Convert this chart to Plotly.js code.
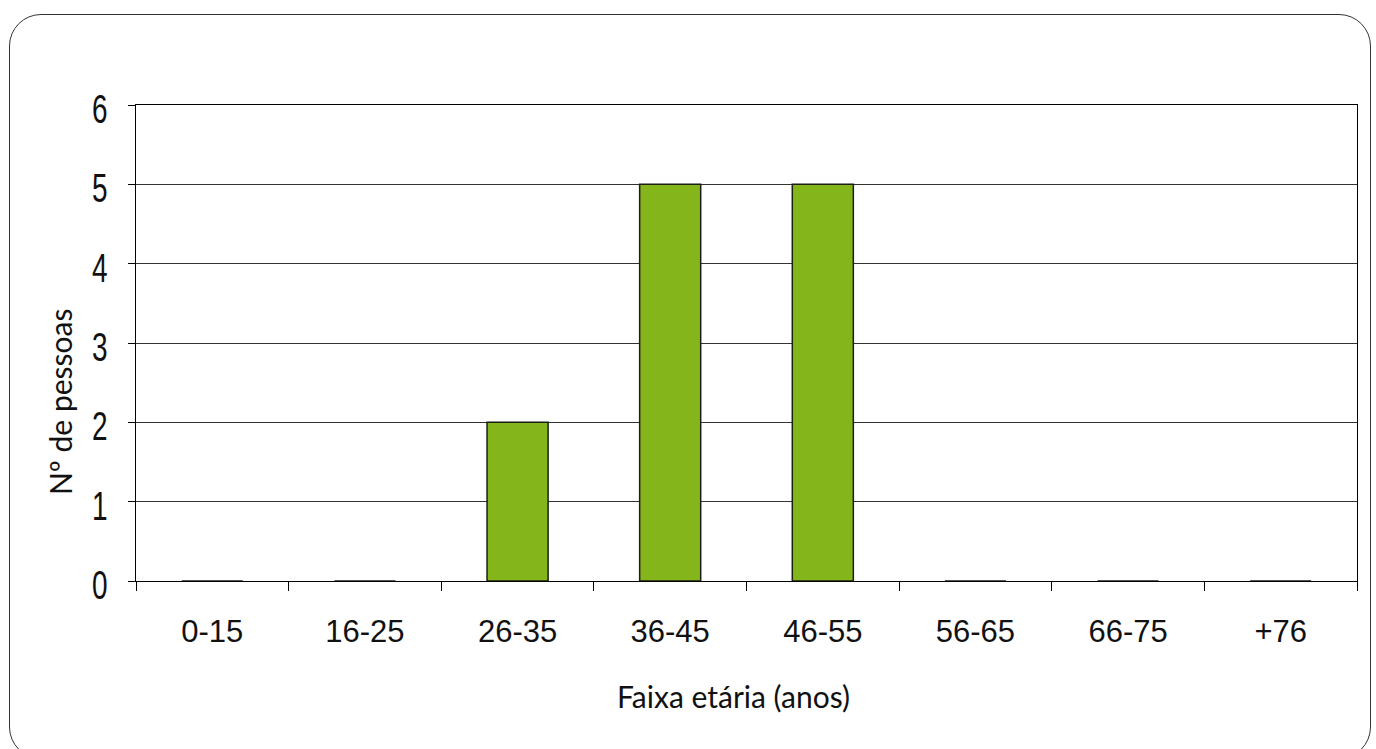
<!DOCTYPE html>
<html><head><meta charset="utf-8">
<script src="https://cdn.plot.ly/plotly-3.0.1.min.js"></script>
<style>
html,body{margin:0;padding:0;background:#fff;}
#wrap{position:relative;width:1376px;height:749px;}
#chart{position:absolute;left:0;top:0;width:1376px;height:749px;}
#frame{position:absolute;left:9px;top:14px;width:1362px;height:745px;border:1.3px solid #333;border-radius:32px;pointer-events:none;box-sizing:border-box;}
</style></head>
<body>
<div id="wrap"><div id="chart"></div><div id="frame"></div></div>
<script>
const categories = ["0-15","16-25","26-35","36-45","46-55","56-65","66-75","+76"];
const pessoas = [0,0,2,5,5,0,0,0];
const yTicks = [0,1,2,3,4,5,6];
const xTitle = "Faixa etária (anos)";
const yTitle = "Nº de pessoas";

const trace = {
  type: "bar",
  x: categories,
  y: pessoas,
  marker: {color: "#84B51A", line: {color: "#1b1f14", width: 1.5}},
  hoverinfo: "x+y"
};

const titleFont = {size: 30, family: "Lato, Noto Sans, sans-serif", color: "#111"};

const layout = {
  width: 1376, height: 749,
  margin: {l: 136, r: 19, t: 105, b: 168},
  paper_bgcolor: "rgba(0,0,0,0)",
  plot_bgcolor: "#fff",
  bargap: 0.6,
  showlegend: false,
  font: {family: "Arial, Liberation Sans, sans-serif", color: "#000"},
  xaxis: {
    type: "category",
    tickson: "boundaries",
    ticks: "outside", ticklen: 9, tickcolor: "#000", tickwidth: 1,
    ticklabelstandoff: 22,
    showline: true, linecolor: "#000", linewidth: 1.3, mirror: true,
    showgrid: false,
    tickfont: {size: 31, family: "Arial, Liberation Sans, sans-serif", color: "#111"}
  },
  yaxis: {
    range: [0, 6],
    tickvals: yTicks,
    ticks: "outside", ticklen: 7, tickcolor: "#000", tickwidth: 1,
    ticklabelstandoff: 12,
    showline: true, linecolor: "#000", linewidth: 1.3, mirror: true,
    showgrid: true, gridcolor: "#333", gridwidth: 1,
    zeroline: false,
    tickfont: {size: 40, family: "Arial, Liberation Sans, sans-serif", color: "#111"}
  },
  annotations: [
    {text: xTitle, xref: "paper", yref: "paper", x: 0.4893, y: -0.2416,
     xanchor: "center", yanchor: "middle", showarrow: false, font: titleFont},
    {text: yTitle, xref: "paper", yref: "paper", x: -0.0622, y: 0.376, textangle: -90,
     xanchor: "center", yanchor: "middle", showarrow: false, font: titleFont}
  ]
};

Plotly.newPlot("chart", [trace], layout, {displayModeBar: false, staticPlot: true}).then(gd => {
  gd.querySelectorAll(".ytick text").forEach(t => {
    const b = t.getBBox();
    const R = b.x + b.width;
    const orig = t.getAttribute("transform") || "";
    t.setAttribute("transform", orig + " translate(" + R + ",4) scale(0.7,1) translate(" + (-R) + ",0)");
  });
});
</script>
</body></html>
